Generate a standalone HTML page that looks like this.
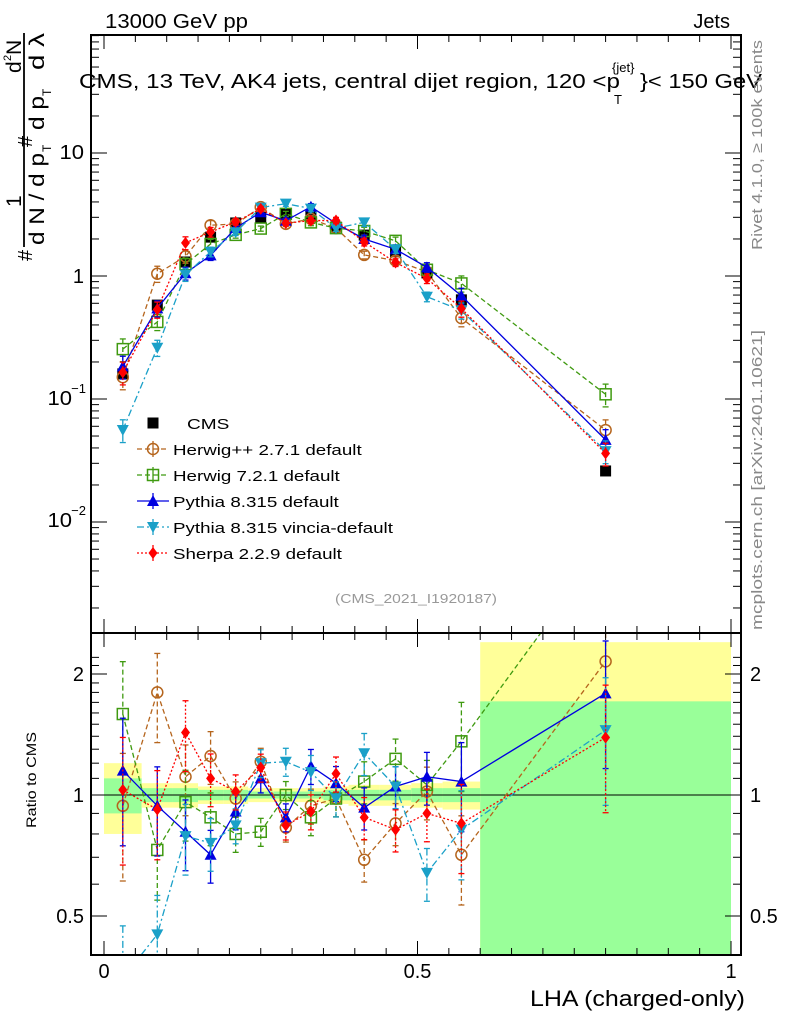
<!DOCTYPE html>
<html><head><meta charset="utf-8"><style>
body{margin:0;background:#fff;width:786px;height:1024px;overflow:hidden;font-family:"Liberation Sans",sans-serif}
svg{position:absolute;left:0;top:0}
</style></head><body>
<svg id="c" width="786" height="1024" font-family="Liberation Sans, sans-serif"></svg>
<script>
const xs=[0.03,0.085,0.13,0.17,0.21,0.25,0.29,0.33,0.37,0.415,0.465,0.515,0.57,0.8];
const edges=[0,0.06,0.11,0.15,0.19,0.23,0.27,0.31,0.35,0.39,0.44,0.49,0.54,0.6,1.0];
const cms=[0.16,0.58,1.30,2.07,2.7,3.0,3.2,3.1,2.5,2.15,1.57,1.06,0.64,0.026];
const rHerwigpp=[0.94,1.80,1.11,1.25,0.98,1.21,0.83,0.94,0.98,0.69,0.85,1.02,0.71,2.15];
const rHerwig7=[1.59,0.73,0.96,0.88,0.80,0.81,1.0,0.88,0.98,1.08,1.23,1.06,1.36,4.2];
const rPythia=[1.15,0.94,0.81,0.71,0.91,1.10,0.88,1.18,1.07,0.93,1.05,1.11,1.08,1.79];
const rVincia=[0.35,0.45,0.79,0.76,0.84,1.20,1.21,1.14,0.98,1.27,1.05,0.64,0.82,1.45];
const rSherpa=[1.03,0.92,1.43,1.10,1.02,1.17,0.84,0.91,1.13,0.88,0.82,0.90,0.85,1.39];
const mcErr=[0.35,0.25,0.2,0.15,0.1,0.08,0.08,0.1,0.1,0.12,0.12,0.15,0.25,0.35];
const bandYellowLo=[0.8,0.93,0.93,0.95,0.95,0.96,0.96,0.96,0.95,0.94,0.94,0.93,0.92,0.3];
const bandYellowHi=[1.2,1.07,1.07,1.05,1.05,1.04,1.04,1.04,1.05,1.06,1.06,1.07,1.08,2.4];
const bandGreenLo=[0.9,0.96,0.96,0.97,0.97,0.98,0.98,0.98,0.97,0.97,0.97,0.96,0.96,0.3];
const bandGreenHi=[1.1,1.04,1.04,1.03,1.03,1.02,1.02,1.02,1.03,1.03,1.03,1.04,1.04,1.71];

const S=document.getElementById('c');const NS='http://www.w3.org/2000/svg';
function el(t,a,p){const e=document.createElementNS(NS,t);for(const k in a)e.setAttribute(k,a[k]);(p||S).appendChild(e);return e;}
const L=91,R=741,T1=35,B1=633,T2=633,B2=955;
const X=v=>104+v*627;
const Y1=v=>276-123*Math.log10(v);
const Y2=v=>795-121*Math.log2(v);
const defs=el('defs',{});
const c1=el('clipPath',{id:'cl1'},defs);el('rect',{x:L,y:T1,width:R-L,height:B1-T1},c1);
const c2=el('clipPath',{id:'cl2'},defs);el('rect',{x:L,y:T2,width:R-L,height:B2-T2},c2);
const gb=el('g',{'clip-path':'url(#cl2)'});

for(let i=0;i<xs.length;i++){
 const y=el('rect',{x:X(edges[i]),y:Y2(bandYellowHi[i]),width:X(edges[i+1])-X(edges[i]),height:Y2(bandYellowLo[i])-Y2(bandYellowHi[i]),fill:'#ffff99'},gb);
 
 const g=el('rect',{x:X(edges[i]),y:Y2(bandGreenHi[i]),width:X(edges[i+1])-X(edges[i]),height:Y2(bandGreenLo[i])-Y2(bandGreenHi[i]),fill:'#99ff99'},gb);
 
}
el('line',{x1:L,x2:R,y1:Y2(1),y2:Y2(1),stroke:'#000','stroke-width':1});
const series=[
 {n:'herwigpp',r:rHerwigpp,c:'#b5651d',d:'5,3',m:'circle',lab:'Herwig++ 2.7.1 default'},
 {n:'herwig7',r:rHerwig7,c:'#3f9a10',d:'5,3',m:'square',lab:'Herwig 7.2.1 default'},
 {n:'pythia',r:rPythia,c:'#0000e0',d:'',m:'tri',lab:'Pythia 8.315 default'},
 {n:'vincia',r:rVincia,c:'#1aa0c8',d:'7,3,2,3',m:'dtri',lab:'Pythia 8.315 vincia-default'},
 {n:'sherpa',r:rSherpa,c:'#ff0000',d:'2,2',m:'diamond',lab:'Sherpa 2.2.9 default'}];
function marker(g,m,x,y,c){
 let e;
 if(m==='circle')e=el('circle',{cx:x,cy:y,r:5.5,fill:'none',stroke:c,'stroke-width':1.5},g);
 else if(m==='square')e=el('rect',{x:x-5.5,y:y-5.5,width:11,height:11,fill:'none',stroke:c,'stroke-width':1.5},g);
 else if(m==='tri')e=el('polygon',{points:`${x},${y-6} ${x-6},${y+5} ${x+6},${y+5}`,fill:c},g);
 else if(m==='dtri')e=el('polygon',{points:`${x},${y+6} ${x-6},${y-5} ${x+6},${y-5}`,fill:c},g);
 else if(m==='diamond')e=el('polygon',{points:`${x},${y-6} ${x-4.5},${y} ${x},${y+6} ${x+4.5},${y}`,fill:c},g);
 else e=el('rect',{x:x-5.5,y:y-5.5,width:11,height:11,fill:c},g);
 return e;
}
function drawPanel(clip,Yf,valf,errf,name){
 const g=el('g',{'clip-path':`url(#${clip})`});
 
 series.forEach(s=>{
  const gs=el('g',{},g);
  
  const pts=xs.map((x,i)=>[X(x),Yf(valf(s,i))]);
  const pl=el('polyline',{points:pts.map(p=>p.join(',')).join(' '),fill:'none',stroke:s.c,'stroke-width':1.3,'stroke-dasharray':s.d},gs);
  
  xs.forEach((x,i)=>{
   const v=valf(s,i),e=errf(i);
   const y1=Yf(v*(1+e)),y2=Yf(Math.max(v*(1-e),1e-6));
   el('line',{x1:X(x),x2:X(x),y1:y1,y2:y2,stroke:s.c,'stroke-width':1.3,'stroke-dasharray':s.d},gs);
   el('line',{x1:X(x)-3,x2:X(x)+3,y1:y1,y2:y1,stroke:s.c,'stroke-width':1.3},gs);
   el('line',{x1:X(x)-3,x2:X(x)+3,y1:y2,y2:y2,stroke:s.c,'stroke-width':1.3},gs);
   const mk=marker(gs,s.m,X(x),Yf(v),s.c);
   
  });
 });
 return g;
}
const gc=el('g',{'clip-path':'url(#cl1)'});

xs.forEach((x,i)=>{const m=marker(gc,'sq',X(x),Y1(cms[i]),'#000');
 });
drawPanel('cl1',Y1,(s,i)=>cms[i]*s.r[i],i=>mcErr[i]*0.6,'main-panel-series');
drawPanel('cl2',Y2,(s,i)=>s.r[i],i=>mcErr[i],'ratio-panel-series');
el('rect',{x:L,y:T1,width:R-L,height:B1-T1,fill:'none',stroke:'#000','stroke-width':2});
el('rect',{x:L,y:T2,width:R-L,height:B2-T2,fill:'none',stroke:'#000','stroke-width':2});
for(let k=0;k<=20;k++){const v=k*0.05,x=X(v),big=k%10===0,len=big?14:7;
 for(const [yt,yb] of [[T1,B1],[T2,B2]]){
  el('line',{x1:x,x2:x,y1:yt,y2:yt+len,stroke:'#000'});el('line',{x1:x,x2:x,y1:yb,y2:yb-len,stroke:'#000'});}}
for(let d=-3;d<=1;d++)for(let m=1;m<=9;m++){const v=m*Math.pow(10,d),y=Y1(v);if(y<T1||y>B1)continue;const len=m===1?16:8;
 el('line',{x1:L,x2:L+len,y1:y,y2:y,stroke:'#000'});el('line',{x1:R,x2:R-len,y1:y,y2:y,stroke:'#000'});}
[0.4,0.5,0.6,0.7,0.8,0.9,1,1.1,1.2,1.3,1.4,1.5,1.6,1.7,1.8,1.9,2,2.1,2.2].forEach(v=>{const y=Y2(v);if(y<T2||y>B2)return;const len=(v===0.5||v===1||v===2)?16:8;
 el('line',{x1:L,x2:L+len,y1:y,y2:y,stroke:'#000'});el('line',{x1:R,x2:R-len,y1:y,y2:y,stroke:'#000'});});
const stretch=[];
function txt(s,a,name,f,p){const t=el('text',a,p);t.textContent=s;if(f)stretch.push([t,f]);return t;}
txt('10',{x:84,y:159,'font-size':20,'text-anchor':'end'},'y-tick-10',1.1);
txt('1',{x:84,y:283,'font-size':20,'text-anchor':'end'},'y-tick-1');
txt('10',{x:72,y:405,'font-size':20,'text-anchor':'end'},'y-tick-0.1',1.1);
txt('−1',{x:86,y:393,'font-size':13,'text-anchor':'end'},'y-tick-0.1-exp');
txt('10',{x:72,y:527,'font-size':20,'text-anchor':'end'},'y-tick-0.01',1.1);
txt('−2',{x:86,y:515,'font-size':13,'text-anchor':'end'},'y-tick-0.01-exp');
[['2',2],['1',1],['0.5',0.5]].forEach(([s,v])=>{txt(s,{x:84,y:Y2(v)+7,'font-size':20,'text-anchor':'end'},'ratio-tick-left');txt(s,{x:750,y:Y2(v)+7,'font-size':20},'ratio-tick-right');});
[['0',0],['0.5',0.5],['1',1]].forEach(([s,v])=>txt(s,{x:X(v),y:978,'font-size':20,'text-anchor':'middle'},'x-tick-label'));
txt('LHA (charged-only)',{x:745,y:1006,'font-size':22,'text-anchor':'end',textLength:215,lengthAdjust:'spacingAndGlyphs'},'x-axis-title');
txt('Ratio to CMS',{x:36,y:780,'font-size':14,'text-anchor':'middle',transform:'rotate(-90 36 780)',textLength:96,lengthAdjust:'spacingAndGlyphs'},'ratio-axis-title');
txt('13000 GeV pp',{x:105,y:28,'font-size':20,textLength:143,lengthAdjust:'spacingAndGlyphs'},'header-energy');
txt('Jets',{x:730,y:28,'font-size':20,'text-anchor':'end'},'header-process');
txt('CMS, 13 TeV, AK4 jets, central dijet region, 120 <p',{x:79,y:88,'font-size':20,textLength:541,lengthAdjust:'spacingAndGlyphs'},'plot-title');
txt('{jet}',{x:612,y:72,'font-size':13},'plot-title-sup');
txt('T',{x:614,y:104,'font-size':13},'plot-title-sub');
txt('}< 150 GeV',{x:640,y:88,'font-size':20,textLength:122,lengthAdjust:'spacingAndGlyphs'},'plot-title-end');
txt('Rivet 4.1.0, ≥ 100k events',{x:762,y:145,'font-size':15,fill:'#888','text-anchor':'middle',transform:'rotate(-90 762 145)',textLength:210,lengthAdjust:'spacingAndGlyphs'},'rivet-label');
txt('mcplots.cern.ch [arXiv:2401.10621]',{x:762,y:480,'font-size':15,fill:'#888','text-anchor':'middle',transform:'rotate(-90 762 480)',textLength:300,lengthAdjust:'spacingAndGlyphs'},'mcplots-label');
txt('(CMS_2021_I1920187)',{x:416,y:603,'font-size':13,fill:'#999','text-anchor':'middle',textLength:162,lengthAdjust:'spacingAndGlyphs'},'analysis-id');
const yt=el('g',{transform:'translate(24,253) rotate(-90)'});
function yts(s,x,y,fs,w){const t=el('text',{x:x,y:y,'font-size':fs},yt);t.textContent=s;if(w){t.setAttribute('textLength',w);t.setAttribute('lengthAdjust','spacingAndGlyphs');}return t;}
el('line',{x1:6,x2:220,y1:0,y2:0,stroke:'#000','stroke-width':1.8},yt);
yts('#',-8,8,20);
yts('1',46,-3,21);
yts('d N / d p',8,20,21,92);yts('T',101,27,12);
yts('#',106,8,20);
yts('d p',123,20,21,34);yts('T',157,27,12);yts('d λ',183,20,21,37);
yts('d',180,-3,21);yts('2',192,-13,11);yts('N',198,-3,21);
const lg=el('g',{});
const ly0=423;
const e0=el('g',{},lg);
marker(e0,'sq',153,ly0,'#000');txt('CMS',{x:187,y:ly0+6,'font-size':15},'legend-label',1.27,e0);
series.forEach((s,i)=>{const y=ly0+26*(i+1);const e=el('g',{},lg);
 
 el('line',{x1:137,x2:169,y1:y,y2:y,stroke:s.c,'stroke-width':1.3,'stroke-dasharray':s.d},e);
 el('line',{x1:153,x2:153,y1:y-8,y2:y+8,stroke:s.c,'stroke-width':1.3},e);
 marker(e,s.m,153,y,s.c);txt(s.lab,{x:173,y:y+6,'font-size':15},'legend-label',1.25,e);});
stretch.forEach(([t,f])=>{const w=t.getComputedTextLength();t.setAttribute('textLength',w*f);t.setAttribute('lengthAdjust','spacingAndGlyphs');});
</script>
</body></html>
